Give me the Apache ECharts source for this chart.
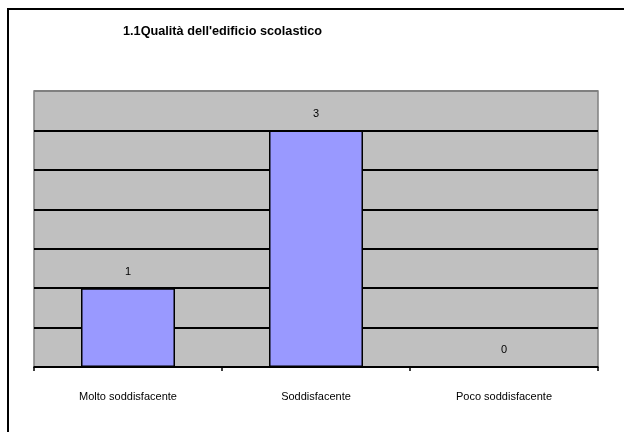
<!DOCTYPE html>
<html><head><meta charset="utf-8">
<script src="https://cdn.jsdelivr.net/npm/echarts@6/dist/echarts.min.js"></script>
<style>html,body{margin:0;padding:0;background:#fff}#c{width:624px;height:432px}</style>
</head><body><div id="c"></div>
<script>
const titleText = "1.1Qualità dell'edificio scolastico";
const categories = ["Molto soddisfacente", "Soddisfacente", "Poco soddisfacente"];
const values = [1, 3, 0];

const chart = echarts.init(document.getElementById('c'), null, {renderer: 'canvas'});
chart.setOption({
  animation: false,
  backgroundColor: '#ffffff',
  title: {
    text: titleText, left: 118, top: 20,
    textStyle: {fontFamily: 'Liberation Sans, Arial', fontSize: 12.7, fontWeight: 'bold', color: '#000'}
  },
  graphic: [{
    type: 'rect', shape: {x: 8, y: 9, width: 640, height: 450},
    style: {fill: 'none', stroke: '#000', lineWidth: 2}, silent: true
  }],
  grid: {left: 34, right: 26, top: 91, bottom: 65, show: true, backgroundColor: '#C0C0C0', borderColor: '#808080', borderWidth: 1.5},
  xAxis: {
    type: 'category', data: categories,
    axisLine: {lineStyle: {color: '#000', width: 1.5}},
    axisTick: {show: true, length: 4, lineStyle: {color: '#000', width: 1.5}},
    axisLabel: {color: '#000', fontSize: 11, fontFamily: 'Liberation Sans, Arial', margin: 24}
  },
  yAxis: {
    type: 'value', min: 0, max: 3.5, interval: 0.5,
    axisLine: {show: false}, axisTick: {show: false}, axisLabel: {show: false},
    splitLine: {lineStyle: {color: ['#000','#000','#000','#000','#000','#000','#000','#808080'], width: 1.8}}
  },
  series: [{
    type: 'bar', data: values, barWidth: '50%',
    itemStyle: {color: '#9999FF', borderColor: '#000', borderWidth: 1.5},
    label: {show: true, position: 'top', distance: 11, color: '#000', fontSize: 11, fontFamily: 'Liberation Sans, Arial'}
  }]
});
</script></body></html>
